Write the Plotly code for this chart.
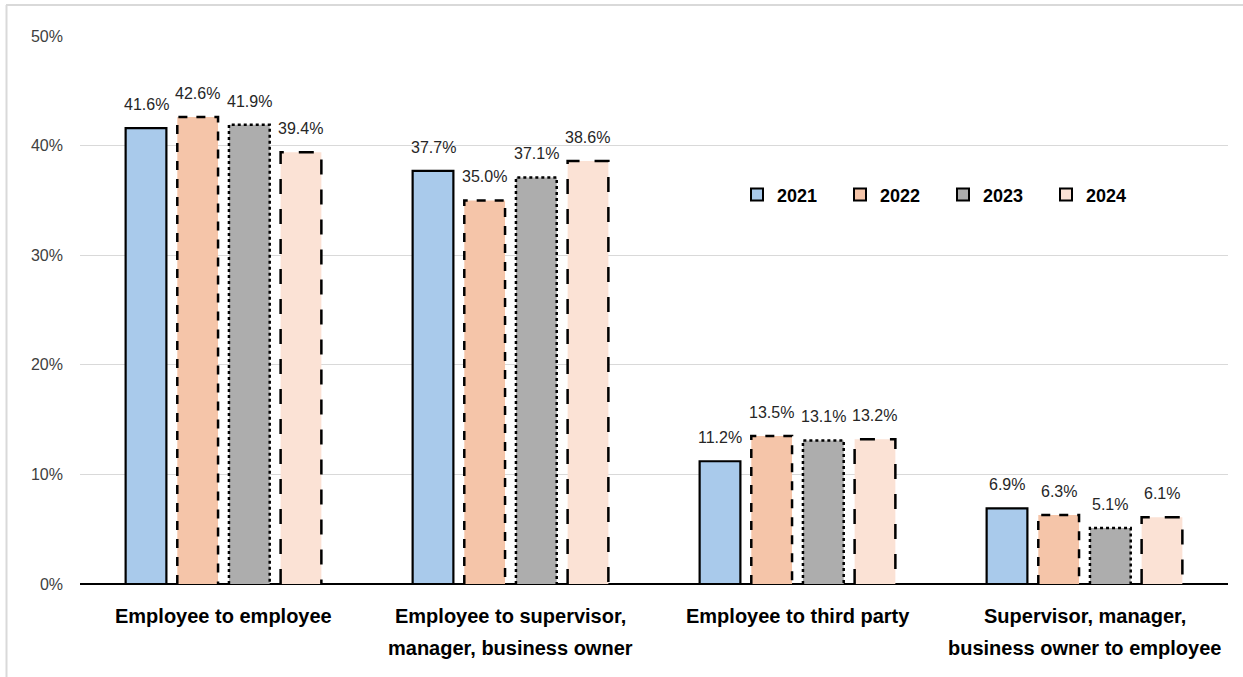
import plotly.graph_objects as go

# Categories (one list per label line) and yearly shares (%)
category_line1 = ["Employee to employee", "Employee to supervisor,",
                  "Employee to third party", "Supervisor, manager,"]
category_line2 = ["", "manager, business owner", "", "business owner to employee"]
years = ["2021", "2022", "2023", "2024"]
values_2021 = [41.6, 37.7, 11.2, 6.9]
values_2022 = [42.6, 35.0, 13.5, 6.3]
values_2023 = [41.9, 37.1, 13.1, 5.1]
values_2024 = [39.4, 38.6, 13.2, 6.1]
y_ticks = [0, 10, 20, 30, 40, 50]

series = [values_2021, values_2022, values_2023, values_2024]
fills = ["#A9CAEB", "#F5C5A9", "#ADADAD", "#FBE2D5"]
dashes = ["solid", "dash", "dot", "longdash"]

bar_w = 0.142
step = 0.18
cat_pos = list(range(len(category_line1)))

# plot-area geometry in pixels
W, H = 1243, 677
ML, MR, MT, MB = 80, 15, 36, 93
PW, PH = W - ML - MR, H - MT - MB

fig = go.Figure()
annotations = []
for j, (yr, vals) in enumerate(zip(years, series)):
    off = (j - 1.5) * step
    xs = [c + off for c in cat_pos]
    fig.add_trace(go.Bar(
        x=xs, y=vals, width=bar_w, name=yr,
        marker=dict(color=fills[j], line=dict(color="black", width=2.2 if j == 0 else 0)),
        showlegend=False, hovertemplate="%{y:.1f}%<extra>" + yr + "</extra>",
    ))
    # outline drawn with the series' dash style
    ox, oy = [], []
    for x, v in zip(xs, vals):
        x0, x1 = x - bar_w / 2, x + bar_w / 2
        ox += [x0, x0, x1, x1, None]
        oy += [0, v, v, 0, None]
    if j > 0:
        fig.add_trace(go.Scatter(
            x=ox, y=oy, mode="lines", showlegend=False, hoverinfo="skip",
            line=dict(color="black", width=2.5, dash=dashes[j]),
        ))
    # value labels above each bar
    for x, v in zip(xs, vals):
        annotations.append(dict(
            x=x, y=v, xref="x", yref="y", text=f"{v:.1f}%", showarrow=False,
            yanchor="bottom", yshift=13,
            font=dict(family="Liberation Sans", size=16, color="#262626"),
        ))
    # legend entry
    fig.add_trace(go.Bar(
        x=[None], y=[None], name=yr,
        marker=dict(color=fills[j], line=dict(color="black", width=2)),
        showlegend=True,
    ))

# category labels under the axis, two lines with wide spacing
for c, l1, l2 in zip(cat_pos, category_line1, category_line2):
    for k, line in enumerate((l1, l2)):
        if line:
            annotations.append(dict(
                x=c, y=0, xref="x", yref="paper", text=f"<b>{line}</b>",
                showarrow=False, yanchor="middle", yshift=-(32 + 32 * k),
                font=dict(family="Liberation Sans", size=20, color="black"),
            ))

fig.update_layout(
    width=W, height=H,
    margin=dict(l=ML, r=MR, t=MT, b=MB),
    paper_bgcolor="white", plot_bgcolor="white",
    barmode="overlay",
    font=dict(family="Liberation Sans", color="#262626"),
    xaxis=dict(
        range=[-0.5, 3.5], showticklabels=False,
        showgrid=False, zeroline=False, showline=False, ticks="",
    ),
    yaxis=dict(
        range=[0, 50], tickmode="array", tickvals=y_ticks,
        ticktext=[f"{t}%" for t in y_ticks],
        tickfont=dict(family="Liberation Sans", size=16, color="#404040"),
        showgrid=True, gridcolor="#D9D9D9", gridwidth=1,
        zeroline=True, zerolinecolor="black", zerolinewidth=2,
        ticklabelstandoff=16,
    ),
    legend=dict(
        orientation="h", x=(737 - ML) / PW, y=0.71, xanchor="left", yanchor="middle",
        font=dict(family="Liberation Sans", size=18, color="black", weight="bold"),
        entrywidth=58, entrywidthmode="pixels", bgcolor="rgba(0,0,0,0)",
        itemclick=False,
    ),
    annotations=annotations,
    shapes=[
        # light frame along the top and left edges
        dict(type="line", xref="paper", yref="paper",
             x0=(6 - ML) / PW, x1=(W - ML) / PW,
             y0=(H - MB - 5) / PH, y1=(H - MB - 5) / PH,
             line=dict(color="#D9D9D9", width=2), layer="below"),
        dict(type="line", xref="paper", yref="paper",
             x0=(6.5 - ML) / PW, x1=(6.5 - ML) / PW,
             y0=(H - MB - 5) / PH, y1=-MB / PH,
             line=dict(color="#D9D9D9", width=2), layer="below"),
    ],
)

fig.write_html("out.html")
